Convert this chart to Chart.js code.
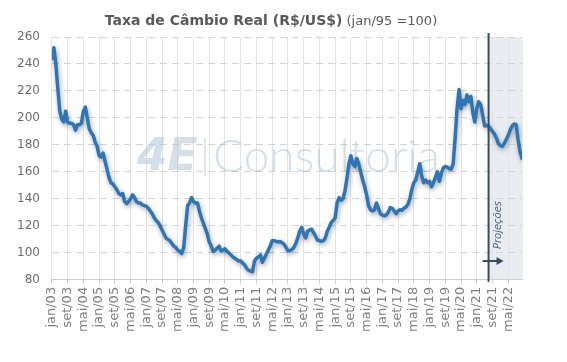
<!DOCTYPE html>
<html lang="pt-BR">
<head>
  <meta charset="UTF-8" />
  <title>Taxa de Câmbio Real</title>
  <script src="https://cdn.jsdelivr.net/npm/chart.js"></script>
  <style>
    * { margin: 0; padding: 0; box-sizing: border-box; }
    body { background: #fff; width: 567px; height: 362px; overflow: hidden; }
  </style>
</head>
<body>
  <canvas id="grafico" width="567" height="362"></canvas>

  <script>
    // rótulos do eixo x, um a cada 8 meses a partir de jan/03
    const rotulosEixo = ['jan/03','set/03','mai/04','jan/05','set/05','mai/06','jan/07','set/07','mai/08','jan/09',
      'set/09','mai/10','jan/11','set/11','mai/12','jan/13','set/13','mai/14','jan/15','set/15',
      'mai/16','jan/17','set/17','mai/18','jan/19','set/19','mai/20','jan/21','set/21','mai/22'];
    const passoRotulo = 8;

    // taxa de câmbio real mensal (jan/95 = 100), jan/03 a dez/22
    const taxaReal = [
      244, 252, 240, 222, 205, 199, 197, 205, 197, 196, 196, 195,          // 2003
      191, 195, 195, 196, 205, 208, 200, 192, 189, 187, 182, 179,          // 2004
      172, 171, 174, 168, 162, 156, 152, 151, 149, 147, 144, 143,          // 2005
      144, 138, 136.5, 138, 140, 143, 141, 138, 137, 137, 135.5, 135,      // 2006
      134.5, 133, 131, 129, 126, 124, 122.5, 120, 117, 114, 111, 110,      // 2007
      109, 107, 105, 104, 102, 101, 99.5, 104, 120, 135, 137, 141,         // 2008
      138, 137, 137, 131, 126, 122, 118, 114, 108, 105, 101, 102,          // 2009
      103.5, 105, 101.5, 102, 103, 101, 100, 98.5, 97, 96, 95, 94,         // 2010
      94, 92.5, 91, 88.5, 87, 86.5, 86, 94, 96, 97, 98.5, 93,              // 2011
      96, 99, 102, 105, 109, 109, 108.5, 108, 108.5, 107.5, 106.5, 104,    // 2012
      101.5, 101.5, 102.5, 104, 107, 111, 116, 119, 114, 111, 116, 117,    // 2013
      117.5, 115, 112.5, 109.5, 109, 108.5, 109, 111, 116, 119, 122.5, 124,// 2014
      126, 137, 141, 139, 140, 146, 155, 166, 172, 166, 164, 170,          // 2015
      166, 160, 154, 149, 143, 135, 132, 131, 132, 137, 133, 129,          // 2016
      128, 127.5, 128, 130, 133.5, 133, 131, 129, 131, 132, 131.5, 133,    // 2017
      134, 136, 140, 147, 152, 154, 160, 166, 157, 152, 154, 152,          // 2018
      153, 149, 152, 156, 160, 153, 159, 163, 164, 163.5, 162.5, 162,      // 2019
      166, 185, 207, 221, 207, 213, 210, 217, 212, 216, 204, 197,          // 2020
      207, 212, 210, 202, 194, 194.5, 194, 192, 190, 188, 185, 181,        // 2021
      179.5, 179, 181, 184, 187, 191, 194, 195.5, 195, 184, 175, 170       // 2022
    ];

    const inicioProjecao = 222; // jul/21
    const tituloNegrito = 'Taxa de Câmbio Real (R$/US$)';
    const tituloNormal = ' (jan/95 =100)';

    const fonte = "'DejaVu Sans', sans-serif";

    const extras = {
      id: 'extras',
      beforeDraw(chart) {
        const { ctx, chartArea: a, scales: { x } } = chart;
        const xp = x.getPixelForValue(inicioProjecao);
        ctx.save();
        ctx.fillStyle = '#e9edf1';
        ctx.fillRect(xp, a.top, a.right + 1 - xp, a.bottom - a.top);
        ctx.restore();
      },
      beforeDatasetsDraw(chart) {
        // marca d'água
        const { ctx } = chart;
        ctx.save();
        ctx.fillStyle = 'rgba(170, 192, 214, 0.5)';
        ctx.strokeStyle = 'rgba(170, 192, 214, 0.5)';
        ctx.font = `300 100px Lato, ${fonte}`;
        const w = ctx.measureText('Consultoria').width;
        ctx.font = `300 ${Math.round(100 * 227 / w)}px Lato, ${fonte}`;
        ctx.textBaseline = 'alphabetic';
        ctx.fillText('Consultoria', 213, 172);
        ctx.font = `italic bold 100px ${fonte}`;
        const w2 = ctx.measureText('4E').width;
        ctx.font = `italic bold ${Math.round(100 * 60 / w2)}px ${fonte}`;
        ctx.fillText('4E', 137, 170);
        ctx.lineWidth = 1.5;
        ctx.beginPath();
        ctx.moveTo(205, 138);
        ctx.lineTo(205, 176);
        ctx.stroke();
        ctx.restore();
      },
      beforeDatasetDraw(chart) {
        const { ctx } = chart;
        ctx.save();
        ctx.shadowColor = 'rgba(0, 0, 0, 0.35)';
        ctx.shadowBlur = 5;
        ctx.shadowOffsetX = 1;
        ctx.shadowOffsetY = 2;
      },
      afterDatasetDraw(chart) {
        chart.ctx.restore();
      },
      afterDatasetsDraw(chart) {
        const { ctx, chartArea: a, scales: { x } } = chart;
        const xp = x.getPixelForValue(inicioProjecao);
        ctx.save();
        ctx.strokeStyle = '#3a4a5f';
        ctx.fillStyle = '#3a4a5f';
        ctx.lineWidth = 2;
        ctx.beginPath();
        ctx.moveTo(xp, a.top - 4);
        ctx.lineTo(xp, a.bottom + 2);
        ctx.stroke();
        // seta
        const ys = 261;
        ctx.beginPath();
        ctx.moveTo(xp - 6, ys);
        ctx.lineTo(xp + 9, ys);
        ctx.stroke();
        ctx.beginPath();
        ctx.moveTo(xp + 15, ys);
        ctx.lineTo(xp + 8, ys - 4);
        ctx.lineTo(xp + 8, ys + 4);
        ctx.closePath();
        ctx.fill();
        // texto Projeções
        ctx.translate(xp + 10, 225);
        ctx.rotate(-Math.PI / 2);
        ctx.font = `italic 10px ${fonte}`;
        ctx.fillStyle = '#50607a';
        ctx.textAlign = 'center';
        ctx.textBaseline = 'middle';
        ctx.fillText('Projeções', 0, 0);
        ctx.restore();
      },
      afterDraw(chart) {
        const { ctx } = chart;
        ctx.save();
        ctx.fillStyle = '#595959';
        ctx.textBaseline = 'alphabetic';
        ctx.font = `bold 14px ${fonte}`;
        const w1 = ctx.measureText(tituloNegrito).width;
        ctx.font = `13px ${fonte}`;
        const w2 = ctx.measureText(tituloNormal).width;
        const x0 = 271 - (w1 + w2) / 2;
        ctx.font = `bold 14px ${fonte}`;
        ctx.fillText(tituloNegrito, x0, 25);
        ctx.font = `13px ${fonte}`;
        ctx.fillText(tituloNormal, x0 + w1, 25);
        ctx.restore();
      }
    };

    const ctx = document.getElementById('grafico').getContext('2d');
    new Chart(ctx, {
      type: 'line',
      data: {
        datasets: [{
          data: taxaReal.map((v, i) => ({ x: i, y: v })),
          borderColor: '#2e75b6',
          borderWidth: 3.5,
          pointRadius: 0,
          tension: 0,
          borderJoinStyle: 'round',
          borderCapStyle: 'round'
        }]
      },
      options: {
        responsive: false,
        animation: false,
        layout: { padding: { top: 37, right: 45, bottom: 27, left: 5 } },
        plugins: { legend: { display: false }, tooltip: { enabled: false } },
        scales: {
          x: {
            type: 'linear',
            min: 0,
            max: taxaReal.length - 1,
            grid: { color: '#e3e3e3', tickLength: 4, tickColor: '#cfcfcf' },
            border: { color: '#d0d0d0' },
            ticks: {
              stepSize: passoRotulo,
              includeBounds: false,
              autoSkip: false,
              maxRotation: 90,
              minRotation: 90,
              padding: 3,
              color: '#7f7f7f',
              font: { family: fonte, size: 13 },
              callback: v => rotulosEixo[v / passoRotulo]
            }
          },
          y: {
            min: 80,
            max: 260,
            grid: { color: '#d4d4d4', drawTicks: false },
            border: { display: false, dash: [7, 5] },
            ticks: {
              stepSize: 20,
              padding: 12,
              color: '#6b6b6b',
              font: { family: fonte, size: 12 }
            }
          }
        }
      },
      plugins: [extras]
    });
  </script>
</body>
</html>
